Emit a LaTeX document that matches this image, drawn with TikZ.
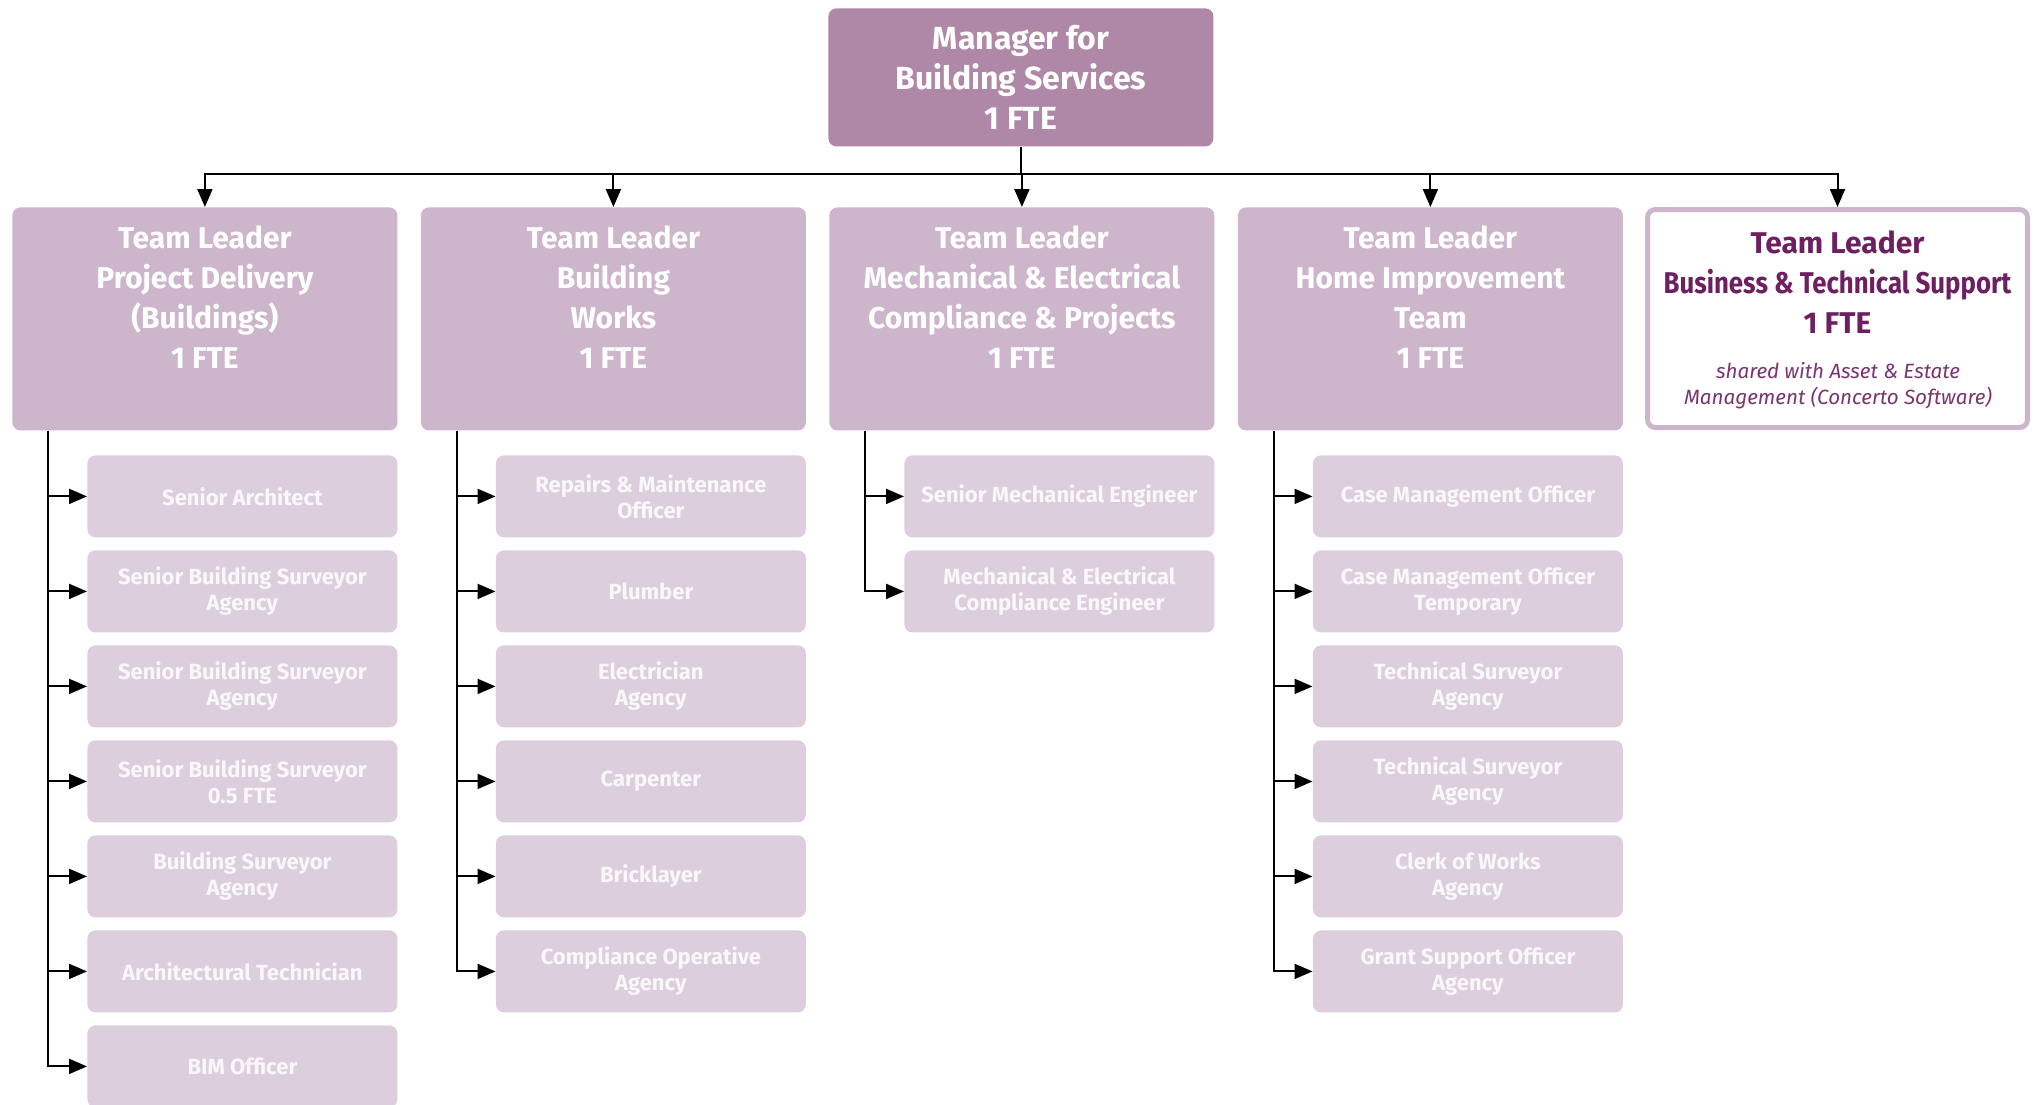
\documentclass[tikz,border=0pt]{standalone}
\usepackage{fontspec}
\setmainfont{Fira Sans}
\usetikzlibrary{arrows.meta}
\definecolor{mgrc}{HTML}{AF87A7}
\definecolor{tlc}{HTML}{CDB6CB}
\definecolor{chc}{HTML}{DDCEDE}
\definecolor{dpur}{HTML}{6D1F62}
\definecolor{notec}{HTML}{7A3570}
\definecolor{chtext}{HTML}{FAF7FA}
\begin{document}
\begin{tikzpicture}[x=0.5pt,y=-0.5pt,
  box/.style={rounded corners=4pt, inner sep=0pt, anchor=north west},
  mgrbox/.style={box, fill=mgrc, minimum width=192.5pt, minimum height=69pt, text=white, align=center, font=\fontsize{16}{20}\selectfont\bfseries},
  tlbox/.style={box, fill=tlc, minimum width=192.5pt, minimum height=111.5pt},
  tltext/.style={inner sep=0pt, anchor=north, text=white, align=center, font=\fontsize{15}{20}\selectfont\bfseries},
  tlfive/.style={box, draw=tlc, line width=2.5pt, fill=white, minimum width=190pt, minimum height=109pt},
  tlfivetext/.style={inner sep=0pt, anchor=north, text=dpur, align=center, font=\fontsize{15}{20}\selectfont\bfseries},
  notetext/.style={inner sep=0pt, text=notec, align=center, font=\fontsize{10.3}{13}\selectfont\itshape},
  chbox/.style={box, fill=chc, minimum width=155pt, minimum height=41pt, text=chtext, align=center, font=\fontsize{11}{13}\selectfont\bfseries},
  conn/.style={line width=1pt, -{Triangle[length=9pt,width=7.5pt]}}
]
\useasboundingbox (0,0) rectangle (2037,1104);

% Manager
\node[mgrbox] (mgr) at (828,8) {Manager for\\Building Services\\1 FTE};

% Team leaders
\node[tlbox] (tl1) at (12,207) {};
\node[tlbox] (tl2) at (420.5,207) {};
\node[tlbox] (tl3) at (829,207) {};
\node[tlbox] (tl4) at (1237.5,207) {};
\node[tlfive] (tl5) at (1645,207) {};

\node[tltext] (tl1t) at ([yshift=-9pt]tl1.north) {Team Leader\\Project Delivery\\(Buildings)\\1 FTE};
\node[tltext] (tl2t) at ([yshift=-9pt]tl2.north) {Team Leader\\Building\\Works\\1 FTE};
\node[tltext] (tl3t) at ([yshift=-9pt]tl3.north) {Team Leader\\Mechanical \& Electrical\\Compliance \& Projects\\1 FTE};
\node[tltext] (tl4t) at ([yshift=-9pt]tl4.north) {Team Leader\\Home Improvement\\Team\\1 FTE};
\node[tlfivetext] (tl5t) at ([yshift=-11.5pt]tl5.north) {Team Leader\\\scalebox{0.86}[1]{Business \& Technical Support}\\1 FTE};
\node[notetext] (tl5n) at (1838,386) {shared with Asset \& Estate\\Management (Concerto Software)};

% Children column 1
\node[chbox] (c1-1) at (87,455) {Senior Architect};
\node[chbox] (c1-2) at (87,550) {Senior Building Surveyor\\Agency};
\node[chbox] (c1-3) at (87,645) {Senior Building Surveyor\\Agency};
\node[chbox] (c1-4) at (87,740) {Senior Building Surveyor\\0.5 FTE};
\node[chbox] (c1-5) at (87,835) {Building Surveyor\\Agency};
\node[chbox] (c1-6) at (87,930) {Architectural Technician};
\node[chbox] (c1-7) at (87,1025) {BIM Officer};

% Children column 2
\node[chbox] (c2-1) at (495.5,455) {Repairs \& Maintenance\\Officer};
\node[chbox] (c2-2) at (495.5,550) {Plumber};
\node[chbox] (c2-3) at (495.5,645) {Electrician\\Agency};
\node[chbox] (c2-4) at (495.5,740) {Carpenter};
\node[chbox] (c2-5) at (495.5,835) {Bricklayer};
\node[chbox] (c2-6) at (495.5,930) {Compliance Operative\\Agency};

% Children column 3
\node[chbox] (c3-1) at (904,455) {Senior Mechanical Engineer};
\node[chbox] (c3-2) at (904,550) {Mechanical \& Electrical\\Compliance Engineer};

% Children column 4
\node[chbox] (c4-1) at (1312.5,455) {Case Management Officer};
\node[chbox] (c4-2) at (1312.5,550) {Case Management Officer\\Temporary};
\node[chbox] (c4-3) at (1312.5,645) {Technical Surveyor\\Agency};
\node[chbox] (c4-4) at (1312.5,740) {Technical Surveyor\\Agency};
\node[chbox] (c4-5) at (1312.5,835) {Clerk of Works\\Agency};
\node[chbox] (c4-6) at (1312.5,930) {Grant Support Officer\\Agency};

% Top connectors
\foreach \t in {tl1,tl2,tl3,tl4,tl5}
  \draw[conn] (mgr.south) -- ++(0,27) -| (\t.north);

% Child connectors
\foreach \c/\n in {1/7,2/6,3/2,4/6}
  \foreach \k in {1,...,\n}
    \draw[conn] ([xshift=18pt]tl\c.south west) |- (c\c-\k.west);
\end{tikzpicture}
\end{document}
